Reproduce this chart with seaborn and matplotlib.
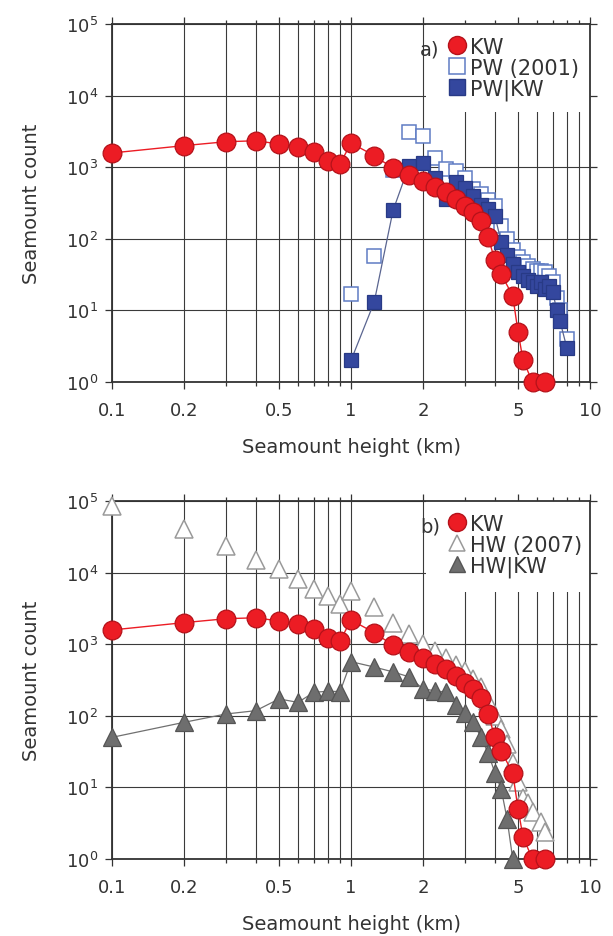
import numpy as np
import pandas as pd
import matplotlib
matplotlib.use("Agg")
import matplotlib.pyplot as plt
from matplotlib.lines import Line2D
from matplotlib.patches import Rectangle
from matplotlib.ticker import FixedLocator, FixedFormatter, NullLocator, LogLocator
import seaborn as sns

# ---------------- data ----------------
kw_height = [0.1, 0.2, 0.3, 0.4, 0.5, 0.6, 0.7, 0.8, 0.9, 1.0, 1.25, 1.5, 1.75, 2.0,
             2.25, 2.5, 2.75, 3.0, 3.25, 3.5, 3.75, 4.0, 4.25, 4.75, 5.0, 5.25, 5.75, 6.5]
kw_count = [1580, 2000, 2270, 2340, 2110, 1900, 1615, 1210, 1110, 2180, 1450, 965, 780, 650,
            530, 446, 360, 290, 234, 179, 105, 50, 32, 16, 5, 2, 1, 1]

pw_height = [1.0, 1.25, 1.5, 1.75, 2.0, 2.25, 2.5, 2.75, 3.0, 3.25, 3.5, 3.75, 4.0, 4.25,
             4.5, 4.75, 5.0, 5.25, 5.5, 5.75, 6.0, 6.25, 6.5, 6.75, 7.0, 7.25, 7.5, 8.0]
pw_count = [17, 58, 900, 3070, 2700, 1350, 950, 890, 700, 500, 420, 350, 290, 150,
            100, 70, 55, 47, 42, 38, 36, 35, 34, 30, 25, 15, 10, 4]
pwkw_count = [2, 13, 250, 1050, 1150, 700, 360, 620, 520, 400, 300, 260, 210, 90,
              60, 45, 34, 30, 27, 25, 22, 25, 20, 22, 18, 10, 7, 3]

hw_height = [0.1, 0.2, 0.3, 0.4, 0.5, 0.6, 0.7, 0.8, 0.9, 1.0, 1.25, 1.5, 1.75, 2.0,
             2.25, 2.5, 2.75, 3.0, 3.25, 3.5, 3.75, 4.0, 4.25, 4.5, 4.75, 5.0, 5.25,
             5.5, 5.75, 6.25, 6.5]
hw_count = [86000, 40600, 23300, 15100, 11200, 8140, 5900, 4750, 3630, 5590, 3270, 2000,
            1400, 1000, 800, 650, 520, 420, 330, 250, 160, 100, 65, 40, 22, 12, 7,
            6, 4.5, 3.3, 2.4]

hwkw_height = [0.1, 0.2, 0.3, 0.4, 0.5, 0.6, 0.7, 0.8, 0.9, 1.0, 1.25, 1.5, 1.75, 2.0,
               2.25, 2.5, 2.75, 3.0, 3.25, 3.5, 3.75, 4.0, 4.25, 4.5, 4.75]
hwkw_count = [50, 81, 106, 118, 172, 154, 213, 220, 218, 570, 480, 410, 350, 237,
              224, 213, 140, 110, 81, 50, 30, 16, 9.5, 3.6, 1]

x_ticks = [0.1, 0.2, 0.5, 1, 2, 5, 10]
x_tick_labels = ["0.1", "0.2", "0.5", "1", "2", "5", "10"]

# ---------------- style ----------------
sns.set_style("ticks")
plt.rcParams["font.family"] = ["DejaVu Sans"]
plt.rcParams["mathtext.fontset"] = "dejavusans"

RED = "#ec1c24"
RED_EDGE = "#b5121a"
BLUE = "#34479e"
BLUE_EDGE = "#283a86"
OPEN_BLUE = "#5f7cc4"
GRAY = "#6e6e6e"
GRAY_EDGE = "#555555"
OPEN_GRAY = "#9a9a9a"
GRID = "#3a3a3a"
TXT = "#333333"

fig = plt.figure(figsize=(6.13, 9.37), dpi=100)
ax_a = fig.add_axes([112 / 613, (937 - 383) / 937, 478 / 613, 358 / 937])
ax_b = fig.add_axes([112 / 613, (937 - 860) / 937, 478 / 613, 358 / 937])


def style_axes(ax, box_bottom):
    ax.set_xscale("log")
    ax.set_yscale("log")
    ax.set_xlim(0.1, 10)
    ax.set_ylim(1, 1e5)
    ax.xaxis.set_major_locator(FixedLocator(x_ticks))
    ax.xaxis.set_major_formatter(FixedFormatter(x_tick_labels))
    ax.xaxis.set_minor_locator(LogLocator(base=10, subs=np.arange(2, 10)))
    ax.yaxis.set_major_locator(LogLocator(base=10, numticks=10))
    ax.yaxis.set_minor_locator(NullLocator())
    ax.set_axisbelow(True)
    ax.grid(True, which="both", axis="x", color=GRID, lw=0.8)
    ax.grid(True, which="major", axis="y", color=GRID, lw=0.8)
    ax.tick_params(which="both", direction="out", top=True, right=True,
                   labelsize=13, colors=TXT, width=0.9)
    ax.tick_params(which="major", length=5)
    ax.tick_params(axis="x", which="major", pad=9)
    ax.tick_params(axis="y", which="major", pad=5)
    ax.tick_params(which="minor", length=3)
    for s in ax.spines.values():
        s.set_color("#333333")
        s.set_linewidth(1.3)
    ax.set_xlabel("Seamount height (km)", fontsize=14, color=TXT, labelpad=13)
    ax.set_ylabel("Seamount count", fontsize=14, color=TXT, labelpad=18)
    ax.add_patch(Rectangle((0.656, box_bottom), 0.344, 1 - box_bottom,
                           transform=ax.transAxes, facecolor="white",
                           edgecolor="none", zorder=1.2))


def line_markers(ax, x, y, marker, ms, fc, ec, lc, lw, z):
    sns.lineplot(x=x, y=y, ax=ax, estimator=None, sort=False, color=lc, lw=lw,
                 marker=marker, markersize=ms, markerfacecolor=fc,
                 markeredgecolor=ec, markeredgewidth=0.9, zorder=z, clip_on=False)


def open_markers(ax, x, y, marker, ms, ec, z):
    sns.lineplot(x=x, y=y, ax=ax, estimator=None, sort=False, color=ec,
                 linestyle="", marker=marker, markersize=ms, markerfacecolor="white",
                 markeredgecolor=ec, markeredgewidth=1.1, zorder=z, clip_on=False)


# ---------------- panel a ----------------
style_axes(ax_a, 0.754)
open_markers(ax_a, pw_height, pw_count, "s", 10.5, OPEN_BLUE, 3)
line_markers(ax_a, pw_height, pwkw_count, "s", 10.5, BLUE, BLUE_EDGE, "#5a6590", 0.9, 4)
line_markers(ax_a, kw_height, kw_count, "o", 13.5, RED, RED_EDGE, RED, 1.0, 5)

handles_a = [
    Line2D([], [], linestyle="", marker="o", markersize=13, markerfacecolor=RED,
           markeredgecolor=RED_EDGE),
    Line2D([], [], linestyle="", marker="s", markersize=11, markerfacecolor="white",
           markeredgecolor=OPEN_BLUE, markeredgewidth=1.1),
    Line2D([], [], linestyle="", marker="s", markersize=11, markerfacecolor=BLUE,
           markeredgecolor=BLUE_EDGE),
]
ax_a.legend(handles_a, ["KW", "PW (2001)", "PW|KW"], loc="upper left",
            bbox_to_anchor=(0.705, 0.965), frameon=False, fontsize=15,
            handlelength=0.8, handletextpad=0.2, labelspacing=0.05,
            borderpad=0, borderaxespad=0, labelcolor=TXT)
ax_a.text(0.665, 0.93, "a)", transform=ax_a.transAxes, fontsize=14, color=TXT,
          ha="center", va="center", zorder=6)

# ---------------- panel b ----------------
style_axes(ax_b, 0.746)
open_markers(ax_b, hw_height, hw_count, "^", 12.5, OPEN_GRAY, 3)
line_markers(ax_b, hwkw_height, hwkw_count, "^", 12.5, GRAY, GRAY_EDGE, "#707070", 0.9, 4)
line_markers(ax_b, kw_height, kw_count, "o", 13.5, RED, RED_EDGE, RED, 1.0, 5)

handles_b = [
    Line2D([], [], linestyle="", marker="o", markersize=13, markerfacecolor=RED,
           markeredgecolor=RED_EDGE),
    Line2D([], [], linestyle="", marker="^", markersize=12, markerfacecolor="white",
           markeredgecolor=OPEN_GRAY, markeredgewidth=1.1),
    Line2D([], [], linestyle="", marker="^", markersize=12, markerfacecolor=GRAY,
           markeredgecolor=GRAY_EDGE),
]
ax_b.legend(handles_b, ["KW", "HW (2007)", "HW|KW"], loc="upper left",
            bbox_to_anchor=(0.705, 0.965), frameon=False, fontsize=15,
            handlelength=0.8, handletextpad=0.2, labelspacing=0.05,
            borderpad=0, borderaxespad=0, labelcolor=TXT)
ax_b.text(0.665, 0.93, "b)", transform=ax_b.transAxes, fontsize=14, color=TXT,
          ha="center", va="center", zorder=6)

fig.savefig("out.png", dpi=100, facecolor="white")
